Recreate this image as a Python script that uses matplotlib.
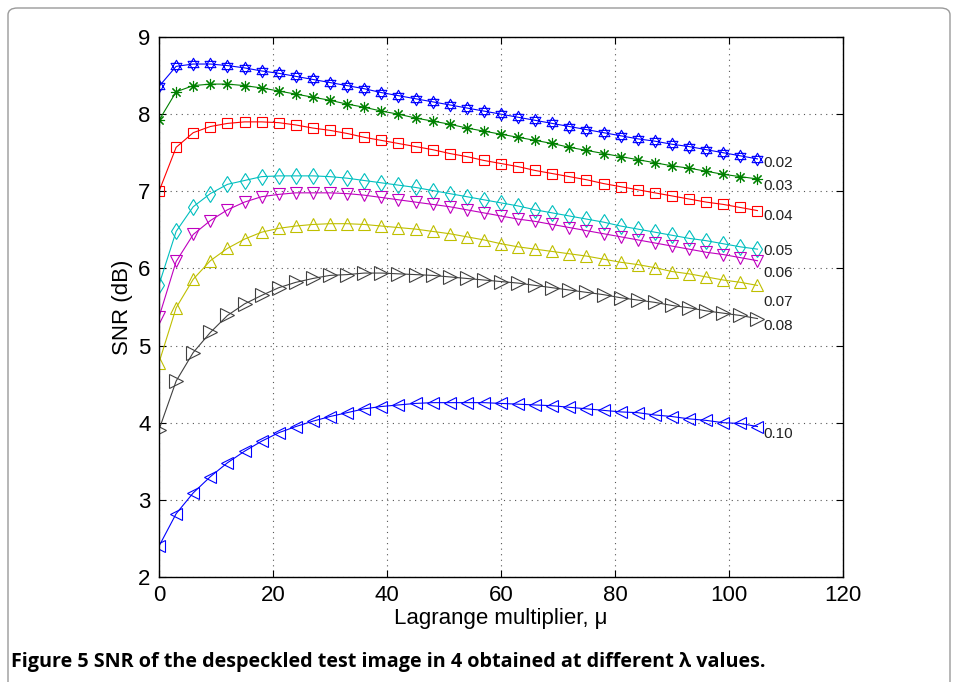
import numpy as np
import matplotlib
matplotlib.use("Agg")
import matplotlib.pyplot as plt
from matplotlib.path import Path
from matplotlib.patches import FancyBboxPatch

# ---------------- data ----------------
mu = list(range(0, 106, 3))

snr_002 = [8.36, 8.62, 8.65, 8.65, 8.63, 8.60, 8.56, 8.53, 8.49, 8.45, 8.41, 8.37,
           8.33, 8.28, 8.24, 8.20, 8.16, 8.12, 8.08, 8.04, 8.00, 7.96, 7.92, 7.88,
           7.84, 7.80, 7.76, 7.72, 7.68, 7.65, 7.61, 7.58, 7.54, 7.50, 7.46, 7.42]
snr_003 = [7.92, 8.29, 8.37, 8.39, 8.39, 8.37, 8.34, 8.30, 8.26, 8.22, 8.18, 8.13,
           8.09, 8.04, 8.00, 7.95, 7.91, 7.87, 7.82, 7.78, 7.74, 7.70, 7.66, 7.62,
           7.57, 7.53, 7.49, 7.45, 7.41, 7.37, 7.33, 7.30, 7.26, 7.22, 7.19, 7.16]
snr_004 = [7.00, 7.57, 7.76, 7.84, 7.88, 7.90, 7.90, 7.89, 7.86, 7.82, 7.79, 7.75,
           7.70, 7.66, 7.62, 7.58, 7.54, 7.49, 7.45, 7.40, 7.36, 7.32, 7.27, 7.23,
           7.19, 7.15, 7.10, 7.06, 7.02, 6.98, 6.94, 6.90, 6.86, 6.83, 6.79, 6.75]
snr_005 = [5.79, 6.48, 6.80, 6.97, 7.09, 7.14, 7.19, 7.20, 7.20, 7.20, 7.19, 7.17,
           7.14, 7.11, 7.08, 7.05, 7.01, 6.97, 6.93, 6.89, 6.85, 6.81, 6.76, 6.72,
           6.68, 6.64, 6.60, 6.55, 6.51, 6.47, 6.43, 6.39, 6.36, 6.32, 6.28, 6.25]
snr_006 = [5.37, 6.09, 6.44, 6.62, 6.76, 6.86, 6.93, 6.96, 6.98, 6.98, 6.98, 6.97,
           6.95, 6.92, 6.89, 6.86, 6.83, 6.80, 6.76, 6.72, 6.68, 6.64, 6.61, 6.57,
           6.53, 6.49, 6.45, 6.41, 6.37, 6.33, 6.29, 6.25, 6.21, 6.18, 6.14, 6.10]
snr_007 = [4.78, 5.49, 5.86, 6.10, 6.26, 6.38, 6.47, 6.52, 6.55, 6.57, 6.58, 6.58,
           6.57, 6.55, 6.53, 6.51, 6.48, 6.45, 6.41, 6.37, 6.32, 6.28, 6.25, 6.22,
           6.19, 6.16, 6.12, 6.08, 6.05, 6.01, 5.96, 5.93, 5.89, 5.85, 5.82, 5.78]
snr_008 = [3.91, 4.54, 4.91, 5.17, 5.39, 5.54, 5.65, 5.75, 5.82, 5.87, 5.91, 5.92,
           5.94, 5.94, 5.93, 5.92, 5.91, 5.89, 5.87, 5.85, 5.83, 5.81, 5.78, 5.75,
           5.72, 5.69, 5.66, 5.62, 5.59, 5.56, 5.52, 5.49, 5.45, 5.42, 5.39, 5.35]
snr_010 = [2.40, 2.82, 3.09, 3.30, 3.48, 3.63, 3.76, 3.87, 3.95, 4.02, 4.08, 4.13,
           4.18, 4.21, 4.23, 4.25, 4.26, 4.26, 4.26, 4.26, 4.25, 4.24, 4.23, 4.22,
           4.20, 4.18, 4.16, 4.14, 4.13, 4.10, 4.08, 4.05, 4.03, 4.00, 3.99, 3.95]

lambdas = ["0.02", "0.03", "0.04", "0.05", "0.06", "0.07", "0.08", "0.10"]
series = [snr_002, snr_003, snr_004, snr_005, snr_006, snr_007, snr_008, snr_010]

# ---------------- style ----------------
# hexagram (two overlapping triangles) like matlab's 'h'
up = [(0, 1), (-0.866, -0.5), (0.866, -0.5), (0, 1)]
dn = [(0, -1), (-0.866, 0.5), (0.866, 0.5), (0, -1)]
hexagram = Path(up + dn, [Path.MOVETO, Path.LINETO, Path.LINETO, Path.CLOSEPOLY] * 2)

colors = ["#0000ff", "#008000", "#ff0000", "#00bfbf", "#bf00bf", "#bfbf00", "#404040", "#0000ff"]
markers = [hexagram, (8, 2, 0), "s", "d", "v", "^", ">", "<"]
msizes = [9, 8, 7, 8, 9, 9, 10, 9]
label_dy = [-3, -5, -4, -1, -9, -12, -5, -5]  # label offset in points

plt.rcParams['font.family'] = ['Liberation Sans', 'DejaVu Sans']

fig = plt.figure(figsize=(9.54, 6.82), dpi=100)
ax = fig.add_axes([0.1667, 0.154, 0.7169, 0.7917])

for y, lab, c, m, ms, dy in zip(series, lambdas, colors, markers, msizes, label_dy):
    ax.plot(mu, y, color=c, marker=m, markersize=ms, markerfacecolor='none',
            markeredgecolor=c, linewidth=0.8, markeredgewidth=0.8)
    ax.annotate(lab, xy=(mu[-1], y[-1]), xytext=(4, dy), textcoords='offset points',
                fontsize=11, va='center', ha='left', color='#222222')

ax.set_xlim(0, 120)
ax.set_ylim(2, 9)
ax.set_xticks(range(0, 121, 20))
ax.set_yticks(range(2, 10))
ax.grid(True, linestyle=(0, (1, 4)), color='#555555', linewidth=0.8)
ax.tick_params(direction='in', top=True, right=True, labelsize=16, length=5, pad=6)
for s in ax.spines.values():
    s.set_linewidth(1.0)
ax.set_xlabel("Lagrange multiplier, μ", fontsize=16, labelpad=1)
ax.set_ylabel("SNR (dB)", fontsize=16, labelpad=4)

# page frame + caption
frame = FancyBboxPatch((8 / 954, -0.05), 942 / 954, 1 - 8 / 682 + 0.05,
                       boxstyle="round,pad=0,rounding_size=0.01", transform=fig.transFigure,
                       fill=False, edgecolor='#9a9a9a', linewidth=1.0)
fig.patches.append(frame)
fig.text(11 / 954, 1 - 662 / 682, "Figure 5 SNR of the despeckled test image in 4 obtained at different λ values.",
         fontsize=14.2, fontweight='bold', family=['Open Sans', 'DejaVu Sans'], va='center', ha='left')

fig.savefig("out.png", dpi=100)
